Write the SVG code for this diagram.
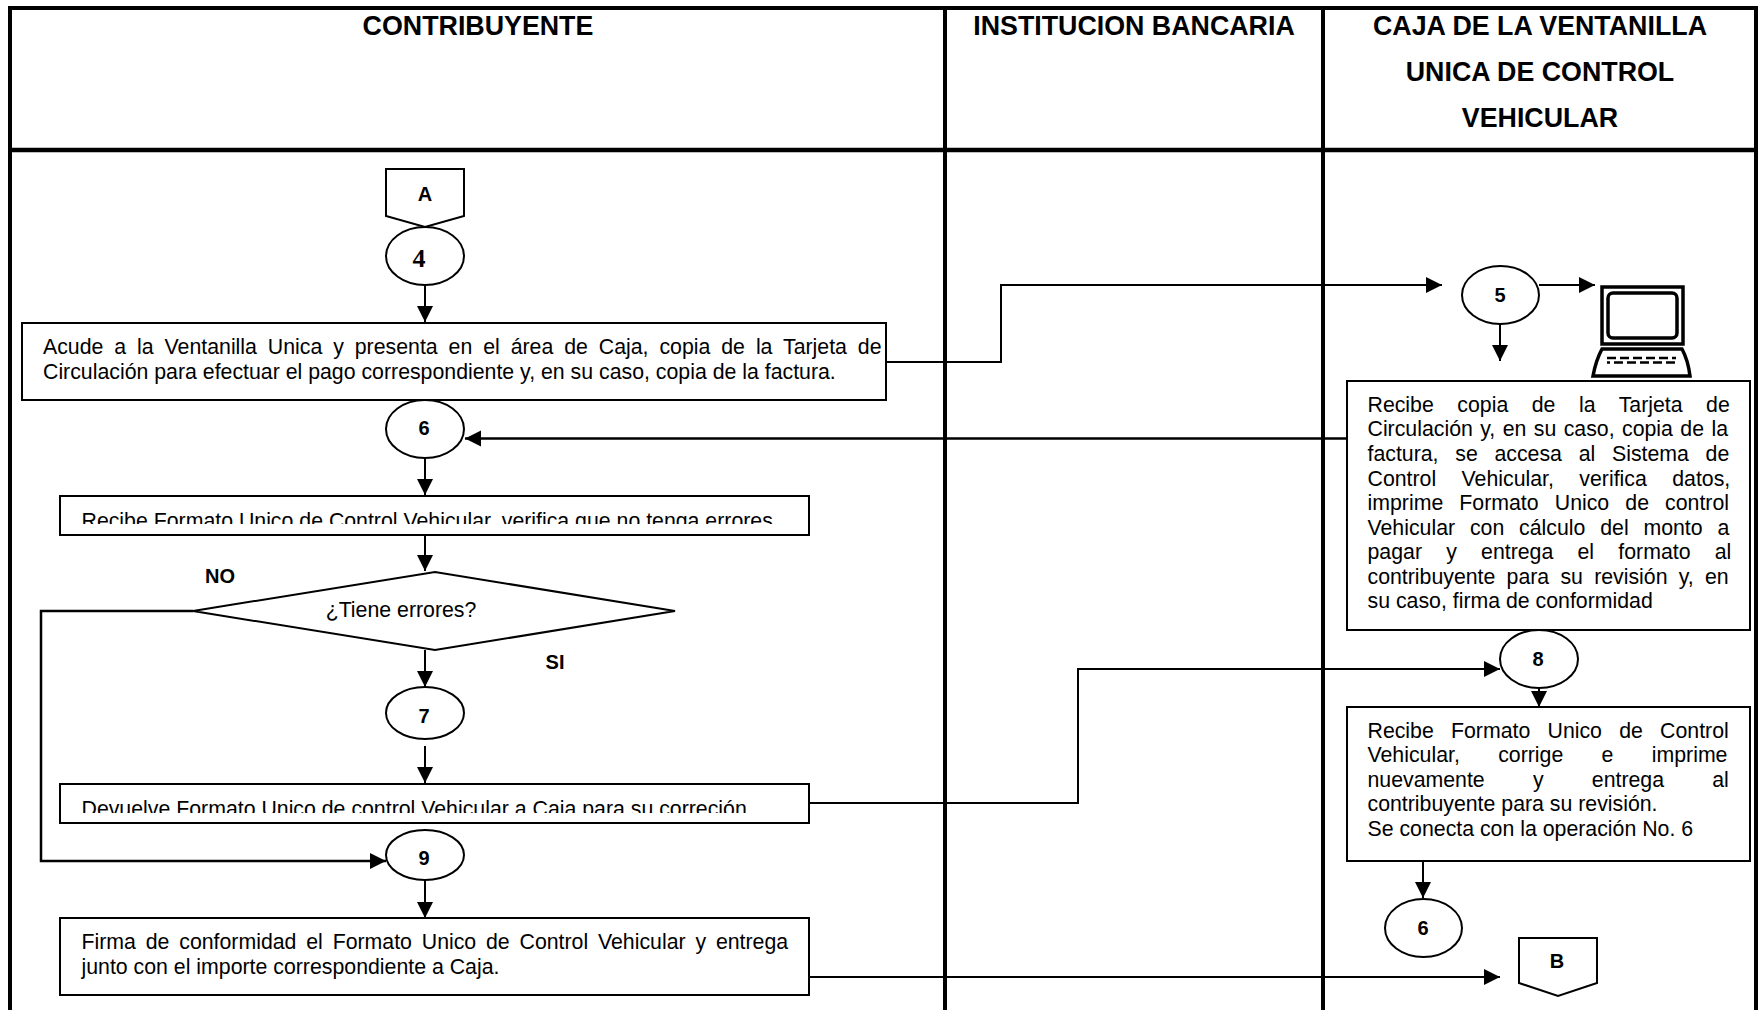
<svg xmlns="http://www.w3.org/2000/svg" width="1758" height="1010" viewBox="0 0 1758 1010">
<style>
text{font-family:"Liberation Sans",Arial,sans-serif;fill:#000}
.h{font-size:26.8px;font-weight:700;text-anchor:middle}
.t{font-size:21.3px}
.b{font-size:20px;font-weight:700;text-anchor:middle}
.s{fill:#fff;stroke:#000;stroke-width:2}
.c{fill:none;stroke:#000;stroke-width:2}
.c2{fill:none;stroke:#000;stroke-width:2.5}
.l{fill:none;stroke:#000;stroke-width:4}
</style>
<defs>
<marker id="a" markerUnits="userSpaceOnUse" markerWidth="18" markerHeight="18" refX="16" refY="9" orient="auto"><path d="M0 1L16 9L0 17Z" fill="#000"/></marker>
<clipPath id="k1"><rect x="62" y="497" width="745" height="27"/></clipPath>
<clipPath id="k2"><rect x="62" y="785" width="745" height="28"/></clipPath>
</defs>
<rect width="1758" height="1010" fill="#fff"/>
<g id="lanes">
<path class="l" d="M10 1010V8H1756V1010M945 8V1010M1323 8V1010"/>
<path d="M8 150H1756" fill="none" stroke="#000" stroke-width="4.5"/>
<text class="h" x="478" y="35">CONTRIBUYENTE</text>
<text class="h" x="1134" y="35">INSTITUCION BANCARIA</text>
<text class="h" x="1540" y="35">CAJA DE LA VENTANILLA</text>
<text class="h" x="1540" y="81">UNICA DE CONTROL</text>
<text class="h" x="1540" y="127">VEHICULAR</text>
</g>
<g id="connectors">
<path class="c" d="M425 285V322" marker-end="url(#a)"/>
<path class="c" d="M425 458V495" marker-end="url(#a)"/>
<path class="c" d="M425 535V571" marker-end="url(#a)"/>
<path class="c" d="M425 650V687" marker-end="url(#a)"/>
<path class="c" d="M425 746V783" marker-end="url(#a)"/>
<path class="c" d="M425 880V918" marker-end="url(#a)"/>
<path class="c2" d="M193 611H41V861H386" marker-end="url(#a)"/>
<path class="c" d="M886 362H1001V285H1442" marker-end="url(#a)"/>
<path class="c2" d="M1347 438.5H465" marker-end="url(#a)"/>
<path class="c" d="M809 803H1078V669H1500" marker-end="url(#a)"/>
<path class="c" d="M809 977H1500" marker-end="url(#a)"/>
<path class="c" d="M1539 285H1595" marker-end="url(#a)"/>
<path class="c" d="M1500 323V361" marker-end="url(#a)"/>
<path class="c" d="M1539 688V707" marker-end="url(#a)"/>
<path class="c" d="M1423 861V898" marker-end="url(#a)"/>
</g>
<g id="nA"><path class="s" d="M386 169H464V216L425 227L386 216Z"/><text class="b" x="425" y="201">A</text></g>
<g id="n4"><ellipse class="s" cx="425" cy="256" rx="39" ry="29"/><text x="419" y="267" style="font-family:'Liberation Serif',serif;font-size:26px;font-weight:700;text-anchor:middle">4</text></g>
<g id="box1"><rect class="s" x="22" y="323" width="864" height="77"/>
<text class="t" x="43" y="354" word-spacing="5">Acude a la Ventanilla Unica y presenta en el área de Caja, copia de la Tarjeta de</text>
<text class="t" x="43" y="379">Circulación para efectuar el pago correspondiente y, en su caso, copia de la factura.</text></g>
<g id="n6"><ellipse class="s" cx="425" cy="429" rx="39" ry="29"/><text class="b" x="424" y="435">6</text></g>
<g id="box2"><rect class="s" x="60" y="496" width="749" height="39"/>
<text class="t" x="81.5" y="528" clip-path="url(#k1)">Recibe Formato Unico de Control Vehicular, verifica que no tenga errores</text></g>
<g id="dec"><path class="s" d="M193 611L435 572L675 611L435 650Z"/>
<text class="t" x="401" y="617" text-anchor="middle">¿Tiene errores?</text></g>
<text class="b" x="220" y="583">NO</text>
<text class="b" x="555" y="669">SI</text>
<g id="n7"><ellipse class="s" cx="425" cy="713" rx="39" ry="26"/><text class="b" x="424" y="723">7</text></g>
<g id="box3"><rect class="s" x="60" y="784" width="749" height="39"/>
<text class="t" x="81.5" y="816" clip-path="url(#k2)">Devuelve Formato Unico de control Vehicular a Caja para su correción</text></g>
<g id="n9"><ellipse class="s" cx="425" cy="855" rx="39" ry="25"/><text class="b" x="424" y="865">9</text></g>
<g id="box4"><rect class="s" x="60" y="918" width="749" height="77"/>
<text class="t" x="81.5" y="949" word-spacing="3.9">Firma de conformidad el Formato Unico de Control Vehicular y entrega</text>
<text class="t" x="81.5" y="974">junto con el importe correspondiente a Caja.</text></g>
<g id="n5"><ellipse class="s" cx="1500.5" cy="295" rx="38.5" ry="29"/><text class="b" x="1500" y="302">5</text></g>
<g id="pc">
<rect x="1602" y="287" width="81" height="57" fill="#fff" stroke="#000" stroke-width="3.5"/>
<rect x="1608" y="293" width="69" height="45" rx="5" fill="#fff" stroke="#000" stroke-width="3.5"/>
<path d="M1602 349H1682Q1688 360 1690 376H1593Q1596 360 1602 349Z" fill="#fff" stroke="#000" stroke-width="3.5"/>
<path d="M1607 358H1676" fill="none" stroke="#000" stroke-width="2.5" stroke-dasharray="9 4"/>
<path d="M1607 362.5H1676" fill="none" stroke="#000" stroke-width="2.5" stroke-dasharray="9 4" stroke-dashoffset="6"/>
</g>
<g id="boxR1"><rect class="s" x="1347" y="381" width="403" height="249"/>
<text class="t" x="1367.5" y="412" word-spacing="17.6">Recibe copia de la Tarjeta de</text>
<text class="t" x="1367.5" y="436" word-spacing="1.5">Circulación y, en su caso, copia de la</text>
<text class="t" x="1367.5" y="461" word-spacing="10.8">factura, se accesa al Sistema de</text>
<text class="t" x="1367.5" y="486" word-spacing="19.5">Control Vehicular, verifica datos,</text>
<text class="t" x="1367.5" y="510" word-spacing="10.2">imprime Formato Unico de control</text>
<text class="t" x="1367.5" y="535" word-spacing="8.9">Vehicular con cálculo del monto a</text>
<text class="t" x="1367.5" y="559" word-spacing="18.3">pagar y entrega el formato al</text>
<text class="t" x="1367.5" y="584" word-spacing="5.3">contribuyente para su revisión y, en</text>
<text class="t" x="1367.5" y="608">su caso, firma de conformidad</text></g>
<g id="n8"><ellipse class="s" cx="1539" cy="659" rx="39" ry="29"/><text class="b" x="1538" y="666">8</text></g>
<g id="boxR2"><rect class="s" x="1347" y="707" width="403" height="154"/>
<text class="t" x="1367.5" y="738" word-spacing="11.3">Recibe Formato Unico de Control</text>
<text class="t" x="1367.5" y="762" word-spacing="32.4">Vehicular, corrige e imprime</text>
<text class="t" x="1367.5" y="787" word-spacing="42.3">nuevamente y entrega al</text>
<text class="t" x="1367.5" y="811">contribuyente para su revisión.</text>
<text class="t" x="1367.5" y="836">Se conecta con la operación No. 6</text></g>
<g id="n6b"><ellipse class="s" cx="1423.5" cy="928" rx="38.5" ry="29"/><text class="b" x="1423" y="935">6</text></g>
<g id="nB"><path class="s" d="M1519 938H1597V983L1558 996L1519 983Z"/><text class="b" x="1557" y="968">B</text></g>
</svg>
